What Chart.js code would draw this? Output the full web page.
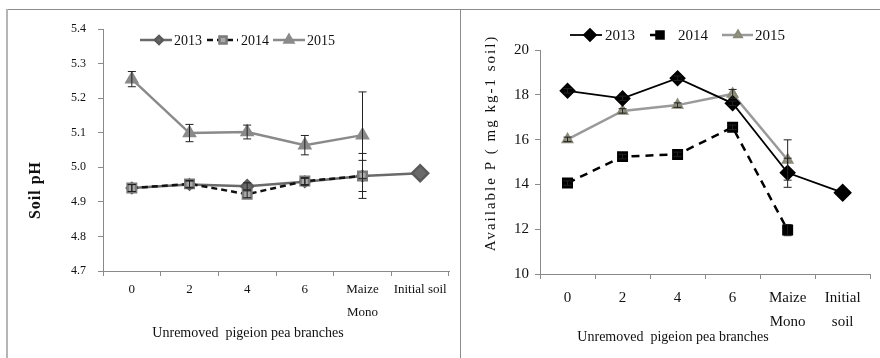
<!DOCTYPE html>
<html>
<head>
<meta charset="utf-8">
<script src="https://cdn.jsdelivr.net/npm/chart.js@4"></script>
<style>
  body { margin: 0; background: #fff; width: 880px; height: 358px; overflow: hidden; position: relative; }
  .box { position: absolute; }
  #phWrap { left: 0; top: 0; width: 460px; height: 358px; }
  #pWrap { left: 460px; top: 0; width: 420px; height: 358px; }
  .line { position: absolute; background: #8c8c8c; }
</style>
</head>
<body>
<div class="line" style="left:7px;top:9px;width:873px;height:1px"></div>
<div class="line" style="left:6px;top:9px;width:2px;height:349px;background:#b5b5b5"></div>
<div class="line" style="left:460px;top:9px;width:1px;height:349px"></div>
<div class="box" id="phWrap"><canvas id="phChart" width="460" height="358"></canvas></div>
<div class="box" id="pWrap"><canvas id="pChart" width="420" height="358"></canvas></div>
<script>
// categories
const phLabels = ["0", "2", "4", "6", ["Maize", "Mono"], "Initial soil"];
const pLabels = ["0", "2", "4", "6", ["Maize", "Mono"], ["Initial", "soil"]];
const years = ["2013", "2014", "2015"];

// soil pH
const ph2013 = [4.94, 4.95, 4.945, 4.958, 4.975, 4.983];
const ph2014 = [4.94, 4.952, 4.922, 4.96, 4.975, null];
const ph2015 = [5.255, 5.099, 5.102, 5.064, 5.093, null];
const phErr2013 = [0.01, 0.01, 0.01, 0.01, 0.065, 0];
const phErr2014 = [0.01, 0.01, 0.01, 0.01, 0.045, 0];
const phErr2015 = [0.022, 0.025, 0.02, 0.028, 0.125, 0];

// available P
const p2013 = [18.18, 17.84, 18.74, 17.62, 14.52, 13.63];
const p2014 = [14.06, 15.24, 15.34, 16.55, 11.96, null];
const p2015 = [16.01, 17.28, 17.54, 18.04, 15.09, null];
const pErr2013 = [0.1, 0.1, 0.1, 0.1, 0.65, 0];
const pErr2014 = [0.1, 0.1, 0.1, 0.1, 0.25, 0];
const pErr2015 = [0.1, 0.1, 0.1, 0.2, 0.9, 0];

const SERIF = "'Liberation Serif', 'Times New Roman', serif";

const errorBars = {
  id: "errorBars",
  afterDatasetsDraw(chart) {
    const ctx = chart.ctx;
    const y = chart.scales.y;
    ctx.save();
    chart.data.datasets.forEach((ds, i) => {
      if (!ds.errs) return;
      const meta = chart.getDatasetMeta(i);
      meta.data.forEach((pt, j) => {
        const v = ds.data[j], e = ds.errs[j];
        if (v == null || !e) return;
        const top = y.getPixelForValue(v + e), bot = y.getPixelForValue(v - e);
        ctx.strokeStyle = "#222";
        ctx.lineWidth = 1;
        ctx.beginPath();
        ctx.moveTo(pt.x, top); ctx.lineTo(pt.x, bot);
        ctx.moveTo(pt.x - 4, top); ctx.lineTo(pt.x + 4, top);
        ctx.moveTo(pt.x - 4, bot); ctx.lineTo(pt.x + 4, bot);
        ctx.stroke();
      });
    });
    ctx.restore();
  }
};

// legend + axis titles drawn by hand so they sit where the original has them
const decorations = {
  id: "decorations",
  afterDraw(chart, args, opts) {
    const ctx = chart.ctx;
    ctx.save();
    ctx.textBaseline = "middle";
    opts.legend.forEach((it, i) => {
      const ds = chart.data.datasets[i];
      ctx.strokeStyle = ds.borderColor;
      ctx.lineWidth = ds.borderWidth;
      ctx.setLineDash(ds.borderDash || []);
      ctx.beginPath();
      ctx.moveTo(it.x0, opts.legendY);
      ctx.lineTo(it.x1, opts.legendY);
      ctx.stroke();
      ctx.setLineDash([]);
      ctx.fillStyle = ds.pointBackgroundColor;
      ctx.strokeStyle = ds.pointBorderColor;
      Chart.helpers.drawPoint(ctx, {
        pointStyle: ds.pointStyle,
        radius: it.r,
        rotation: 0,
        borderWidth: 1
      }, it.m, opts.legendY);
      ctx.fillStyle = "#111";
      ctx.font = opts.legendFont;
      ctx.textAlign = "left";
      ctx.fillText(years[i], it.t, opts.legendY + 1);
    });

    ctx.fillStyle = "#111";
    ctx.textAlign = "center";
    ctx.font = opts.xTitle.font;
    ctx.fillText(opts.xTitle.text, opts.xTitle.x, opts.xTitle.y);

    ctx.translate(opts.yTitle.x, opts.yTitle.y);
    ctx.rotate(-Math.PI / 2);
    ctx.font = opts.yTitle.font;
    ctx.letterSpacing = opts.yTitle.spacing;
    ctx.fillText(opts.yTitle.text, 0, 0);
    ctx.restore();
  }
};

function axes(min, max, step, yw, xh, tickFont, yFont, xPad, yPad, lh) {
  return {
    x: {
      offset: true,
      afterFit: s => { s.height = xh; },
      border: { color: "#8a8a8a", width: 1 },
      grid: { display: true, offset: true, drawOnChartArea: false, drawTicks: true, tickLength: 5, color: "#8a8a8a" },
      ticks: { color: "#111", font: { family: SERIF, size: tickFont, lineHeight: lh }, padding: xPad, maxRotation: 0, autoSkip: false }
    },
    y: {
      min, max,
      afterFit: s => { s.width = yw; },
      border: { color: "#8a8a8a", width: 1 },
      grid: { display: true, drawOnChartArea: false, drawTicks: true, tickLength: 5, color: "#8a8a8a" },
      ticks: {
        stepSize: step, color: "#111", padding: yPad,
        font: { family: SERIF, size: yFont },
        callback: v => step < 1 ? v.toFixed(1) : v
      }
    }
  };
}

new Chart(document.getElementById("phChart"), {
  type: "line",
  data: {
    labels: phLabels,
    datasets: [
      {
        label: "2013", data: ph2013, errs: phErr2013, order: 2,
        borderColor: "#6a6a6a", borderWidth: 2.5,
        pointStyle: "rectRot", pointRadius: [5, 5, 6, 5, 5, 8],
        pointBackgroundColor: "#6a6a6a", pointBorderColor: "#5a5a5a"
      },
      {
        label: "2014", data: ph2014, errs: phErr2014, order: 1,
        borderColor: "#111", borderWidth: 2.5, borderDash: [6, 4],
        pointStyle: "rect", pointRadius: 6,
        pointBackgroundColor: "#a9a9a9", pointBorderColor: "#7a7a7a"
      },
      {
        label: "2015", data: ph2015, errs: phErr2015, order: 3,
        borderColor: "#8a8a8a", borderWidth: 2.5,
        pointStyle: "triangle", pointRadius: 6,
        pointBackgroundColor: "#8a8a8a", pointBorderColor: "#8a8a8a"
      }
    ]
  },
  options: {
    responsive: false, animation: false,
    layout: { padding: { left: 0, right: 11, top: 29, bottom: 0 } },
    plugins: {
      legend: { display: false }, tooltip: { enabled: false },
      decorations: {
        legendY: 40, legendFont: "14px " + SERIF,
        legend: [
          { x0: 140, x1: 172, m: 159, r: 4, t: 174 },
          { x0: 207, x1: 238, m: 223, r: 5, t: 241 },
          { x0: 273, x1: 305, m: 289, r: 5, t: 307 }
        ],
        xTitle: { text: "Unremoved  pigeion pea branches", x: 248, y: 333, font: "14px " + SERIF },
        yTitle: { text: "Soil pH", x: 36, y: 190, font: "bold 16px " + SERIF, spacing: "1px" }
      }
    },
    scales: axes(4.7, 5.4, 0.1, 103, 87, 13, 12, 3, 12, 1.7)
  },
  plugins: [errorBars, decorations]
});

new Chart(document.getElementById("pChart"), {
  type: "line",
  data: {
    labels: pLabels,
    datasets: [
      {
        label: "2013", data: p2013, errs: pErr2013, order: 1,
        borderColor: "#000", borderWidth: 1.8,
        pointStyle: "rectRot", pointRadius: [7, 7, 7, 7, 7, 8],
        pointBackgroundColor: "#000", pointBorderColor: "#000"
      },
      {
        label: "2014", data: p2014, errs: pErr2014, order: 2,
        borderColor: "#000", borderWidth: 2.5, borderDash: [8, 6],
        pointStyle: "rect", pointRadius: 6,
        pointBackgroundColor: "#000", pointBorderColor: "#000"
      },
      {
        label: "2015", data: p2015, errs: pErr2015, order: 3,
        borderColor: "#9a9a9a", borderWidth: 2.5,
        pointStyle: "triangle", pointRadius: 5,
        pointBackgroundColor: "#9d9d8c", pointBorderColor: "#8a8a7a"
      }
    ]
  },
  options: {
    responsive: false, animation: false,
    layout: { padding: { left: 0, right: 4, top: 50, bottom: 0 } },
    plugins: {
      legend: { display: false }, tooltip: { enabled: false },
      decorations: {
        legendY: 35, legendFont: "15px " + SERIF,
        legend: [
          { x0: 110, x1: 142, m: 130, r: 6, t: 145 },
          { x0: 190, x1: 203, m: 200, r: 5, t: 218 },
          { x0: 262, x1: 293, m: 278, r: 4, t: 295 }
        ],
        xTitle: { text: "Unremoved  pigeion pea branches", x: 213, y: 337, font: "14px " + SERIF },
        yTitle: { text: "Available P ( mg kg-1 soil)", x: 31, y: 143, font: "15px " + SERIF, spacing: "2px" }
      }
    },
    scales: axes(10, 20, 2, 80, 84, 15, 15, 7, 6, 1.6)
  },
  plugins: [errorBars, decorations]
});
</script>
</body>
</html>
